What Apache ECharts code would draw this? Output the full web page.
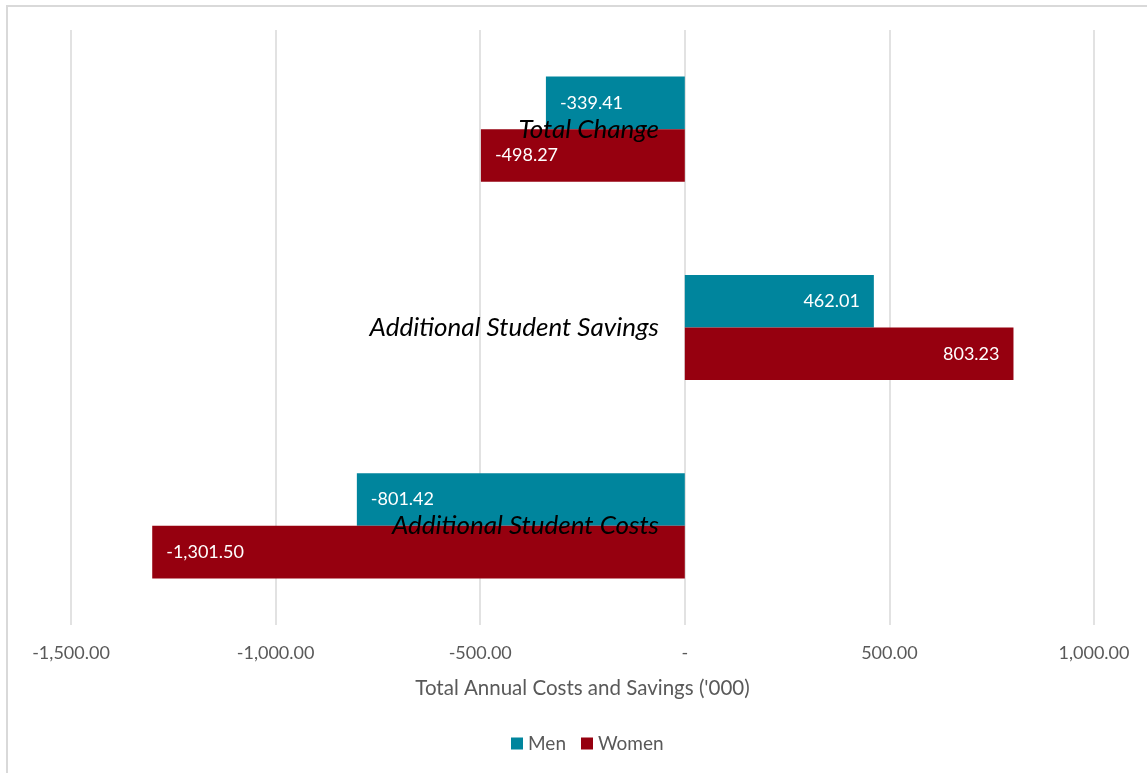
<!DOCTYPE html>
<html>
<head>
<meta charset="utf-8">
<script src="https://cdn.jsdelivr.net/npm/echarts@6/dist/echarts.min.js"></script>
<style>
  html, body { margin: 0; padding: 0; background: #fff; overflow: hidden; }
  #frame { position: absolute; left: 6px; top: 5px; width: 1200px; height: 820px;
           border-left: 2px solid #d9d9d9; border-top: 2px solid #d9d9d9; }
  #chart { position: absolute; left: 0; top: 0; width: 1147px; height: 773px; }
</style>
</head>
<body>
<div id="frame"></div>
<div id="chart"></div>
<script>
// Categories listed top to bottom
const categories = ['Total Change', 'Additional Student Savings', 'Additional Student Costs'];
const menValues = [-339.41, 462.01, -801.42];
const womenValues = [-498.27, 803.23, -1301.50];
const seriesNames = ['Men', 'Women'];
const axisTitle = "Total Annual Costs and Savings ('000)";

const fmt = v => v.toLocaleString('en-US', { minimumFractionDigits: 2, maximumFractionDigits: 2 });

function withLabels(values) {
  return values.map(v => ({
    value: v,
    label: { position: v < 0 ? 'insideLeft' : 'insideRight' }
  }));
}

const chart = echarts.init(document.getElementById('chart'));
chart.setOption({
  animation: false,
  textStyle: { fontFamily: 'Lato, "Open Sans", sans-serif' },
  grid: { left: 71, right: 53, top: 30, bottom: 148, containLabel: false, outerBoundsMode: 'none' },
  legend: {
    data: seriesNames,
    bottom: 15,
    left: 506,
    itemWidth: 12,
    itemHeight: 12,
    itemGap: 15,
    icon: 'rect',
    textStyle: { color: '#595959', fontSize: 19, fontFamily: 'Lato, sans-serif' }
  },
  xAxis: {
    type: 'value',
    min: -1500,
    max: 1000,
    interval: 500,
    name: axisTitle,
    nameLocation: 'middle',
    nameGap: 53,
    nameTextStyle: { color: '#595959', fontSize: 20.5 },
    axisLine: { show: false },
    axisTick: { show: false },
    splitLine: { lineStyle: { color: '#d9d9d9', width: 1.5 } },
    axisLabel: {
      color: '#595959',
      fontSize: 18,
      margin: 19,
      formatter: v => v === 0 ? '-' : fmt(v)
    }
  },
  yAxis: {
    type: 'category',
    data: categories,
    inverse: true,
    // category axis sits on the zero line of the value axis
    offset: -614,
    axisLine: { show: false, onZero: false },
    axisTick: { show: false },
    axisLabel: {
      color: '#000',
      fontSize: 26,
      fontStyle: 'italic',
      margin: 26
    },
    z: 10
  },
  series: [
    {
      name: seriesNames[0],
      type: 'bar',
      data: withLabels(menValues),
      barGap: '0%',
      barCategoryGap: '47%',
      itemStyle: { color: '#00859D' },
      label: { show: true, color: '#fff', fontSize: 18, distance: 14, formatter: p => fmt(p.value) }
    },
    {
      name: seriesNames[1],
      type: 'bar',
      data: withLabels(womenValues),
      barGap: '0%',
      barCategoryGap: '47%',
      itemStyle: { color: '#96000F' },
      label: { show: true, color: '#fff', fontSize: 18, distance: 14, formatter: p => fmt(p.value) }
    }
  ]
});
</script>
</body>
</html>
